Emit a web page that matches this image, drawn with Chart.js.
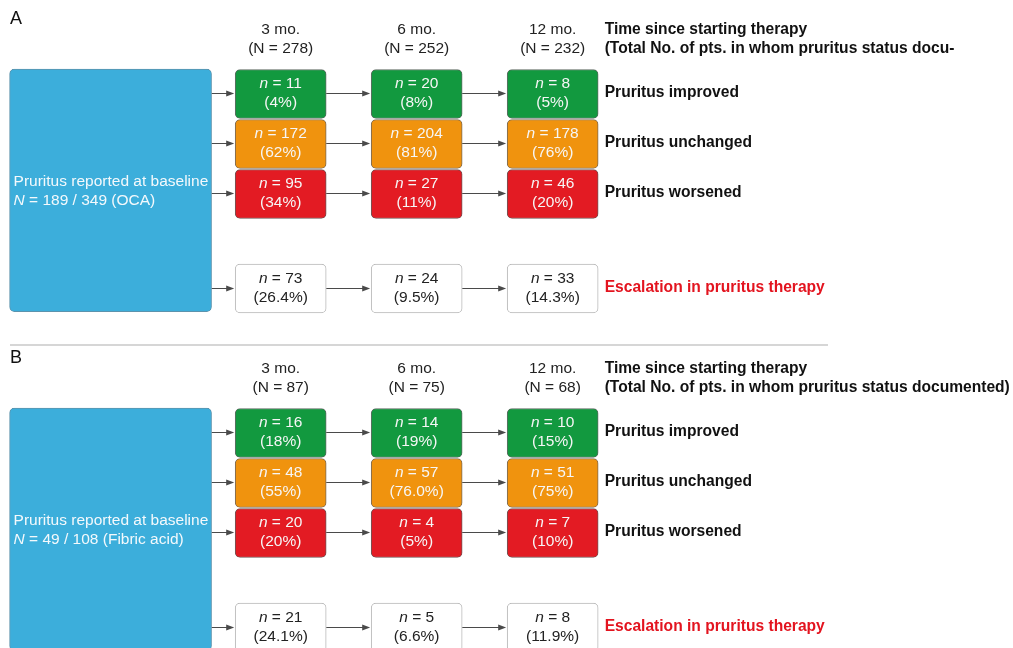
<!DOCTYPE html>
<html>
<head>
<meta charset="utf-8">
<script src="https://cdn.jsdelivr.net/npm/chart.js@4"></script>
<style>
  html, body { margin: 0; padding: 0; background: #fff; overflow: hidden; width: 1013px; height: 648px; }
  .panel { position: absolute; left: 0; width: 1013px; height: 339px; }
</style>
</head>
<body>
<div class="panel" style="top:0"><canvas id="chartA" width="1013" height="339"></canvas></div>
<div class="panel" style="top:339px"><canvas id="chartB" width="1013" height="339"></canvas></div>
<script>
  // time points / row categories
  const timeLabels = ["3 mo.", "6 mo.", "12 mo."];
  const outcomes = ["Pruritus improved", "Pruritus unchanged", "Pruritus worsened", "Escalation in pruritus therapy"];

  // A: OCA
  const totalA = [278, 252, 232];
  const improvedA = [11, 20, 8];
  const improvedPctA = ["4%", "8%", "5%"];
  const unchangedA = [172, 204, 178];
  const unchangedPctA = ["62%", "81%", "76%"];
  const worsenedA = [95, 27, 46];
  const worsenedPctA = ["34%", "11%", "20%"];
  const escalationA = [73, 24, 33];
  const escalationPctA = ["26.4%", "9.5%", "14.3%"];
  const baselineA = [189, 349];
  const drugA = "OCA";

  // B: fibric acid
  const totalB = [87, 75, 68];
  const improvedB = [16, 14, 10];
  const improvedPctB = ["18%", "19%", "15%"];
  const unchangedB = [48, 57, 51];
  const unchangedPctB = ["55%", "76.0%", "75%"];
  const worsenedB = [20, 4, 7];
  const worsenedPctB = ["20%", "5%", "10%"];
  const escalationB = [21, 5, 8];
  const escalationPctB = ["24.1%", "6.6%", "11.9%"];
  const baselineB = [49, 108];
  const drugB = "Fibric acid";

  const noteA = "(Total No. of pts. in whom pruritus status docu-";
  const noteB = "(Total No. of pts. in whom pruritus status documented)";

  // layout
  const FONT = "'Liberation Sans', Arial, sans-serif";
  const rowPos = [0, 1, 2, 3.89];
  const boxHalf = 0.49;
  const boxColors = ["#12993f", "#f0930e", "#e31b23", "#ffffff"];
  const boxBorders = ["#5f6b63", "#7a6a55", "#6e5555", "#b8b8b8"];
  const textColors = ["#f6f6f6", "#f6f6f6", "#f6f6f6", "#222222"];

  function nLine(ctx, n, cx, y) {
    const it = "italic 15.5px " + FONT, rg = "15.5px " + FONT;
    const rest = " = " + n;
    ctx.font = it;
    const w1 = ctx.measureText("n").width;
    ctx.font = rg;
    const w2 = ctx.measureText(rest).width;
    const x0 = cx - (w1 + w2) / 2;
    ctx.textAlign = "left";
    ctx.font = it;
    ctx.fillText("n", x0, y);
    ctx.font = rg;
    ctx.fillText(rest, x0 + w1, y);
  }

  function arrow(ctx, x1, x2, y) {
    ctx.strokeStyle = "#4a4a4a";
    ctx.fillStyle = "#4a4a4a";
    ctx.lineWidth = 1;
    ctx.beginPath();
    ctx.moveTo(x1, y);
    ctx.lineTo(x2 - 6, y);
    ctx.stroke();
    ctx.beginPath();
    ctx.moveTo(x2 - 1, y);
    ctx.lineTo(x2 - 9, y - 3);
    ctx.lineTo(x2 - 9, y + 3);
    ctx.closePath();
    ctx.fill();
  }

  function textPlugin(p) {
    return {
      id: "flowText",
      beforeDatasetsDraw(chart) {
        const ctx = chart.ctx;
        ctx.save();
        if (p.separator) {
          ctx.strokeStyle = "#d6d6d6";
          ctx.lineWidth = 2;
          ctx.beginPath();
          ctx.moveTo(10, 6);
          ctx.lineTo(828, 6);
          ctx.stroke();
        }
        const blue = chart.getDatasetMeta(0).data[0];
        const blueRight = blue.x + blue.width / 2;
        outcomes.forEach((name, k) => {
          const els = chart.getDatasetMeta(k + 1).data;
          let prev = blueRight;
          els.forEach(el => {
            const y = Math.round((el.y + el.base) / 2) - 0.5;
            arrow(ctx, prev, el.x - el.width / 2, y);
            prev = el.x + el.width / 2;
          });
        });
        ctx.restore();
      },
      afterDatasetsDraw(chart) {
        const ctx = chart.ctx;
        const xs = chart.scales.x, ys = chart.scales.y;
        ctx.save();
        ctx.textBaseline = "middle";

        // panel letter
        ctx.fillStyle = "#111";
        ctx.font = "18px " + FONT;
        ctx.textAlign = "left";
        ctx.fillText(p.letter, 10, 19);

        // column headers
        ctx.font = "15.5px " + FONT;
        ctx.fillStyle = "#222";
        ctx.textAlign = "center";
        timeLabels.forEach((t, i) => {
          const x = xs.getPixelForValue(i);
          ctx.fillText(t, x, ys.getPixelForValue(-1.28));
          ctx.fillText("(N = " + p.totals[i] + ")", x, ys.getPixelForValue(-0.9));
        });

        // right-hand labels
        const last = chart.getDatasetMeta(1).data[2];
        const lx = last.x + last.width / 2 + 6.5;
        ctx.textAlign = "left";
        ctx.font = "bold 15.6px " + FONT;
        ctx.fillStyle = "#111";
        ctx.fillText("Time since starting therapy", lx, ys.getPixelForValue(-1.28));
        ctx.fillText(p.note, lx, ys.getPixelForValue(-0.9));
        outcomes.forEach((name, k) => {
          const el = chart.getDatasetMeta(k + 1).data[2];
          ctx.fillStyle = k === 3 ? "#e3141f" : "#111";
          ctx.fillText(name, lx, (el.y + el.base) / 2 - 1);
        });

        // box contents
        outcomes.forEach((name, k) => {
          const els = chart.getDatasetMeta(k + 1).data;
          ctx.fillStyle = textColors[k];
          els.forEach((el, i) => {
            const cy = (el.y + el.base) / 2;
            nLine(ctx, p.counts[k][i], el.x, cy - 10);
            ctx.textAlign = "center";
            ctx.font = "15.5px " + FONT;
            ctx.fillText("(" + p.pcts[k][i] + ")", el.x, cy + 9);
          });
        });

        // baseline box text
        const blue = chart.getDatasetMeta(0).data[0];
        const bx = blue.x - blue.width / 2 + 4;
        const by = (Math.min(blue.y, blue.base) + Math.max(blue.y, blue.base)) / 2;
        ctx.fillStyle = "#f4f9fc";
        ctx.textAlign = "left";
        ctx.font = "15.5px " + FONT;
        ctx.fillText("Pruritus reported at baseline", bx, by - 8.5);
        ctx.font = "italic 15.5px " + FONT;
        ctx.fillText("N", bx, by + 10);
        const wN = ctx.measureText("N").width;
        ctx.font = "15.5px " + FONT;
        ctx.fillText(" = " + p.baseline[0] + " / " + p.baseline[1] + " (" + p.drug + ")", bx + wN, by + 10);
        ctx.restore();
      }
    };
  }

  function makePanel(id, p) {
    const datasets = [{
      label: "baseline",
      data: [{ x: -1.251, y: [-0.5, 4.354] }],
      backgroundColor: "#3caedb",
      borderColor: "#5c93ad",
      borderWidth: 1,
      borderRadius: 5,
      borderSkipped: false,
      barThickness: 202,
      grouped: false
    }];
    outcomes.forEach((name, k) => {
      datasets.push({
        label: name,
        data: p.counts[k].map((v, i) => ({ x: i, y: [rowPos[k] - boxHalf, rowPos[k] + boxHalf] })),
        backgroundColor: boxColors[k],
        borderColor: boxBorders[k],
        borderWidth: 1,
        borderRadius: 5,
        borderSkipped: false,
        barThickness: 91,
        grouped: false
      });
    });

    return new Chart(document.getElementById(id), {
      type: "bar",
      data: { datasets: datasets },
      options: {
        responsive: false,
        animation: false,
        events: [],
        layout: { padding: 0 },
        scales: {
          x: { type: "linear", min: -2.064, max: 5.385, display: false, offset: false },
          y: { type: "linear", min: -1.88, max: 4.9, reverse: true, display: false }
        },
        plugins: { legend: { display: false }, tooltip: { enabled: false } }
      },
      plugins: [textPlugin(p)]
    });
  }

  makePanel("chartA", {
    letter: "A", totals: totalA, note: noteA, drug: drugA, baseline: baselineA, separator: false,
    counts: [improvedA, unchangedA, worsenedA, escalationA],
    pcts: [improvedPctA, unchangedPctA, worsenedPctA, escalationPctA]
  });
  makePanel("chartB", {
    letter: "B", totals: totalB, note: noteB, drug: drugB, baseline: baselineB, separator: true,
    counts: [improvedB, unchangedB, worsenedB, escalationB],
    pcts: [improvedPctB, unchangedPctB, worsenedPctB, escalationPctB]
  });
</script>
</body>
</html>
